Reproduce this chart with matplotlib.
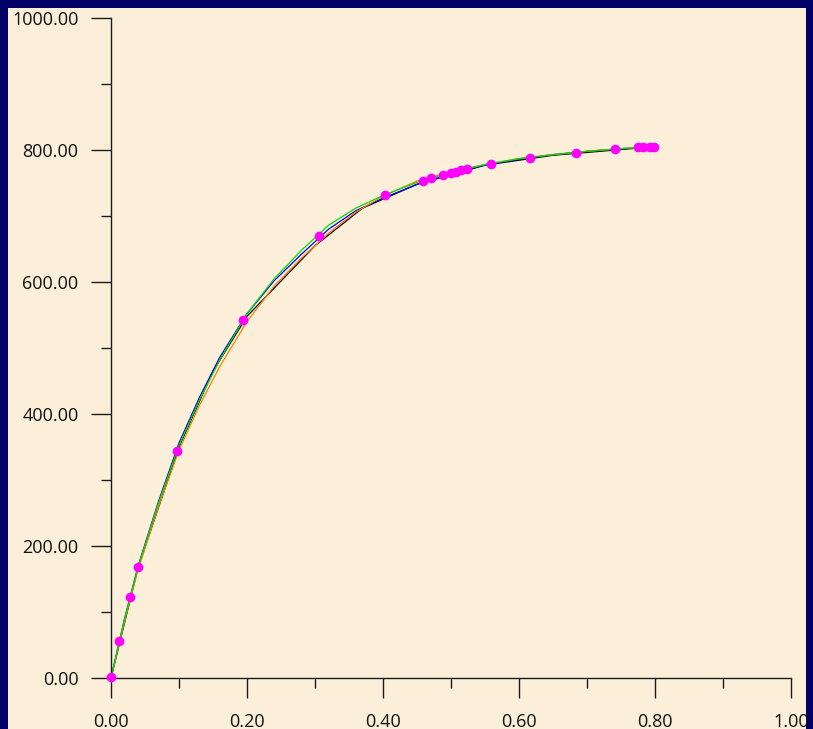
import matplotlib.pyplot as plt
from matplotlib.patches import Rectangle
from matplotlib.ticker import MultipleLocator, FormatStrFormatter

# measured points (magenta)
x_pts = [0.000, 0.012, 0.028, 0.040, 0.097, 0.194, 0.306, 0.403, 0.459, 0.471,
         0.488, 0.500, 0.507, 0.515, 0.524, 0.559, 0.616, 0.684, 0.741, 0.775,
         0.782, 0.793, 0.799]
y_pts = [2, 56, 123, 168, 344, 542, 670, 732, 753, 758,
         762, 765, 767, 770, 771, 779, 788, 795, 802, 805,
         805, 805, 805]

# fitted curves
x_black = [0.00, 0.04, 0.10, 0.15, 0.20, 0.30, 0.37, 0.45, 0.55, 0.65, 0.80]
y_black = [0, 168, 350, 465, 548, 655, 712, 748, 777, 792, 805]

x_blue = [0.00, 0.02, 0.04, 0.07, 0.10, 0.13, 0.16, 0.20, 0.24, 0.28, 0.32,
          0.36, 0.40, 0.45, 0.50, 0.55, 0.60, 0.65, 0.70, 0.75, 0.80]
y_blue = [0, 90, 170, 268, 356, 425, 486, 552, 602, 642, 680,
          708, 727, 748, 764, 777, 786, 793, 798, 802, 805]

x_orange = [0.00, 0.02, 0.04, 0.07, 0.10, 0.13, 0.16, 0.20, 0.24, 0.28, 0.32,
            0.36, 0.40, 0.45, 0.50, 0.55, 0.60, 0.65, 0.70, 0.75, 0.80]
y_orange = [0, 86, 165, 260, 345, 413, 472, 540, 594, 636, 674,
            706, 730, 753, 767, 778, 787, 793, 798, 802, 805]

x_green = [0.00, 0.02, 0.04, 0.07, 0.10, 0.13, 0.16, 0.20, 0.24, 0.28, 0.32,
           0.36, 0.40, 0.45, 0.50, 0.55, 0.60, 0.65, 0.70, 0.75, 0.80]
y_green = [0, 89, 169, 266, 352, 421, 482, 552, 605, 648, 686,
           712, 731, 751, 766, 778, 787, 793, 798, 802, 805]

W, H = 813, 729
fig = plt.figure(figsize=(W / 100, H / 100), dpi=100)
fig.patch.set_facecolor('#000066')
# parchment panel
fig.add_artist(Rectangle((8 / W, 0), (806 - 8) / W, (H - 8) / H,
                         transform=fig.transFigure, facecolor='#FBEFDA',
                         edgecolor='none', zorder=0))

ax = fig.add_axes([111 / W, (H - 678) / H, 680 / W, 660 / H])
ax.set_facecolor('none')

lw = 0.9
ax.plot(x_black, y_black, color='black', lw=lw, zorder=2)
ax.plot(x_blue, y_blue, color='#0000FF', lw=lw, zorder=2)
ax.plot(x_orange, y_orange, color='#FF7F00', lw=lw, zorder=2)
ax.plot(x_green, y_green, color='#00DD00', lw=lw, zorder=2)
ax.plot(x_pts, y_pts, 'o', color='#FF00FF', ms=7, mec='none', zorder=3,
        clip_on=False)

ax.set_xlim(0, 1.0)
ax.set_ylim(0, 1000)
for s in ['top', 'right']:
    ax.spines[s].set_visible(False)
for s in ['left', 'bottom']:
    ax.spines[s].set_color('#1a1a1a')
    ax.spines[s].set_linewidth(1.0)

ax.xaxis.set_major_locator(MultipleLocator(0.2))
ax.xaxis.set_minor_locator(MultipleLocator(0.1))
ax.yaxis.set_major_locator(MultipleLocator(200))
ax.yaxis.set_minor_locator(MultipleLocator(100))
ax.xaxis.set_major_formatter(FormatStrFormatter('%.2f'))
ax.yaxis.set_major_formatter(FormatStrFormatter('%.2f'))

ax.tick_params(which='major', direction='out', length=14.4, width=1.0,
               color='#1a1a1a', labelsize=13, labelcolor='#111111')
ax.tick_params(which='minor', direction='out', length=7.2, width=1.0,
               color='#1a1a1a')
ax.tick_params(axis='y', which='major', pad=9)
ax.tick_params(axis='x', which='major', pad=11)
for lab in ax.get_xticklabels() + ax.get_yticklabels():
    lab.set_fontfamily('Open Sans')

fig.savefig('out.png', dpi=100, facecolor=fig.get_facecolor())
